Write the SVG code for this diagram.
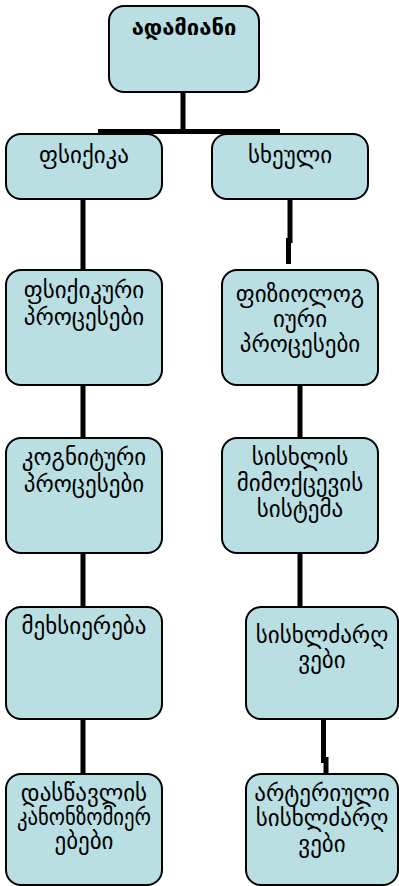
<svg xmlns="http://www.w3.org/2000/svg" width="399" height="886" viewBox="0 0 399 886">
<style>
.box{fill:#b9dfe3;stroke:#000;stroke-width:2}
.t{font-family:"DejaVu Sans",sans-serif;font-size:23px;fill:#000;text-anchor:middle}
.b{font-weight:bold;font-size:22px}
.c{stroke:#000;stroke-width:5;fill:none}
</style>
<rect width="399" height="886" fill="#fff"/>
<g id="connectors">
<line class="c" x1="183" y1="92" x2="183" y2="131"/>
<line class="c" x1="98" y1="131.5" x2="280" y2="131.5" stroke-width="4"/>
<line class="c" x1="83" y1="199" x2="83" y2="270"/>
<line class="c" x1="290" y1="199" x2="290" y2="243"/>
<line class="c" x1="288.5" y1="238" x2="288.5" y2="264"/>
<line class="c" x1="83" y1="385" x2="83" y2="438"/>
<line class="c" x1="300" y1="385" x2="300" y2="438"/>
<line class="c" x1="83" y1="553" x2="83" y2="607"/>
<line class="c" x1="300" y1="553" x2="300" y2="607"/>
<line class="c" x1="83" y1="719" x2="83" y2="774"/>
<line class="c" x1="323.5" y1="719" x2="323.5" y2="763"/>
<line class="c" x1="326" y1="757" x2="326" y2="774"/>
</g>
<g id="n-adamiani"><rect class="box" x="109" y="6" width="150" height="86" rx="15"/><text class="t b" x="184" y="35">ადამიანი</text></g>
<g id="n-psiqika"><rect class="box" x="6" y="134" width="156" height="65" rx="15"/><text class="t" x="84" y="163">ფსიქიკა</text></g>
<g id="n-sxeuli"><rect class="box" x="212" y="134" width="156" height="65" rx="15"/><text class="t" x="290" y="163">სხეული</text></g>
<g id="n-psiqikuri"><rect class="box" x="6" y="270" width="156" height="115" rx="15"/><text class="t" x="84" y="298">ფსიქიკური</text><text class="t" x="84" y="325">პროცესები</text></g>
<g id="n-fiziologiuri"><rect class="box" x="222" y="270" width="156" height="115" rx="15"/><text class="t" x="300" y="302">ფიზიოლოგ</text><text class="t" x="300" y="327">იური</text><text class="t" x="300" y="352">პროცესები</text></g>
<g id="n-kognituri"><rect class="box" x="6" y="438" width="156" height="115" rx="15"/><text class="t" x="84" y="465">კოგნიტური</text><text class="t" x="84" y="492">პროცესები</text></g>
<g id="n-sisxlis"><rect class="box" x="222" y="438" width="156" height="115" rx="15"/><text class="t" x="300" y="465">სისხლის</text><text class="t" x="300" y="491">მიმოქცევის</text><text class="t" x="300" y="517">სისტემა</text></g>
<g id="n-mexsiereba"><rect class="box" x="6" y="607" width="156" height="112" rx="15"/><text class="t" x="84" y="634">მეხსიერება</text></g>
<g id="n-sisxldzarghvebi"><rect class="box" x="246" y="607" width="152" height="112" rx="15"/><text class="t" x="322" y="643">სისხლძარღ</text><text class="t" x="322" y="668">ვები</text></g>
<g id="n-daswavlis"><rect class="box" x="6" y="774" width="156" height="111" rx="15"/><text class="t" x="84" y="801">დასწავლის</text><text class="t" x="84" y="825" textLength="134" lengthAdjust="spacingAndGlyphs">კანონზომიერ</text><text class="t" x="84" y="849">ებები</text></g>
<g id="n-arteriuli"><rect class="box" x="246" y="774" width="152" height="111" rx="15"/><text class="t" x="322" y="801">არტერიული</text><text class="t" x="322" y="826">სისხლძარღ</text><text class="t" x="322" y="852">ვები</text></g>
</svg>
